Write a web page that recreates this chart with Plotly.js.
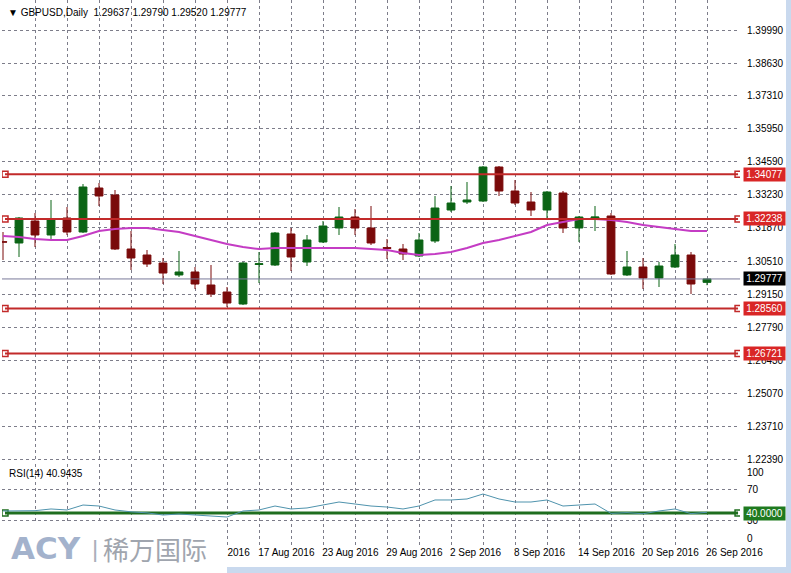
<!DOCTYPE html>
<html><head><meta charset="utf-8">
<script src="https://cdn.plot.ly/plotly-3.0.1.min.js"></script>
<style>html,body{margin:0;padding:0;background:#fff;overflow:hidden}#chart{width:791px;height:573px}</style>
</head><body><div id="chart"></div>
<script>
// ---- data ----
const dates = ['2016-07-26','2016-07-27','2016-07-28','2016-07-29','2016-08-01','2016-08-02','2016-08-03','2016-08-04','2016-08-05',
 '2016-08-08','2016-08-09','2016-08-10','2016-08-11','2016-08-12','2016-08-15','2016-08-16','2016-08-17','2016-08-18','2016-08-19',
 '2016-08-22','2016-08-23','2016-08-24','2016-08-25','2016-08-26','2016-08-29','2016-08-30','2016-08-31','2016-09-01','2016-09-02',
 '2016-09-05','2016-09-06','2016-09-07','2016-09-08','2016-09-09','2016-09-12','2016-09-13','2016-09-14','2016-09-15','2016-09-16',
 '2016-09-19','2016-09-20','2016-09-21','2016-09-22','2016-09-23','2016-09-26'];
const open  = [1.31300,1.31252,1.32154,1.31580,1.32277,1.31703,1.33508,1.33221,1.31005,1.30759,1.30431,1.29940,1.30062,1.29528,1.29241,
 1.28749,1.30370,1.30349,1.31621,1.30472,1.31293,1.31867,1.32318,1.31867,1.31063,1.31005,1.30718,1.31334,1.32605,1.32933,
 1.32974,1.34369,1.33385,1.32933,1.32605,1.33303,1.31867,1.32270,1.32359,1.29940,1.30267,1.29816,1.30267,1.30759,1.29637];
const high  = [1.31703,1.32318,1.32482,1.33016,1.32728,1.33672,1.33713,1.33426,1.31744,1.30964,1.30636,1.30923,1.30267,1.30349,1.29446,
 1.30472,1.30882,1.31703,1.31867,1.31580,1.32154,1.32728,1.32646,1.32769,1.31416,1.31211,1.31662,1.33180,1.33590,1.33754,
 1.34410,1.34410,1.33836,1.33344,1.33385,1.33385,1.32359,1.32769,1.32482,1.30923,1.30636,1.30472,1.31211,1.30882,1.29790];
const low   = [1.30554,1.30677,1.31087,1.31416,1.31580,1.31662,1.32769,1.30964,1.30144,1.30267,1.29569,1.29857,1.29364,1.29036,1.28626,
 1.28708,1.29610,1.30308,1.30103,1.30308,1.31252,1.31580,1.31580,1.31170,1.30595,1.30554,1.30677,1.31252,1.32523,1.32851,
 1.32933,1.33180,1.32810,1.32359,1.32195,1.31662,1.31293,1.31744,1.29940,1.29898,1.29364,1.29446,1.30226,1.29160,1.29520];
const close = [1.31290,1.32277,1.31580,1.32236,1.31703,1.33549,1.33180,1.31005,1.30636,1.30390,1.30020,1.30062,1.29569,1.29159,1.28790,
 1.30431,1.30400,1.31662,1.30677,1.31375,1.31949,1.32318,1.31867,1.31252,1.31030,1.30800,1.31375,1.32687,1.32892,1.33016,
 1.34369,1.33385,1.32892,1.32605,1.33344,1.31867,1.32318,1.32320,1.29980,1.30267,1.29816,1.30308,1.30759,1.29569,1.29777];
const movingAvg = [1.31539,1.31498,1.31416,1.31375,1.31375,1.31539,1.31744,1.31826,1.31867,1.31867,1.31785,1.31703,1.31539,1.31375,1.31211,
 1.31087,1.31005,1.31046,1.31046,1.31046,1.31046,1.31046,1.31046,1.31005,1.30964,1.30841,1.30759,1.30800,1.30882,1.31046,
 1.31252,1.31375,1.31539,1.31703,1.31990,1.32113,1.32236,1.32236,1.32195,1.32113,1.31990,1.31908,1.31826,1.31744,1.31744];
const rsi = [42.6,42.6,43.0,45.2,43.9,50.3,49.0,43.9,41.5,40.2,37.4,38.7,37.4,36.1,34.8,
 42.6,43.9,49.0,45.2,46.5,50.3,54.2,51.6,49.0,47.7,45.2,49.0,56.8,56.8,58.1,
 64.5,58.1,54.2,54.2,56.8,49.0,50.3,51.6,39.5,40.5,39.0,42.6,45.2,39.2,40.9435];
const priceTicks = [1.39990,1.38630,1.37310,1.35950,1.34590,1.33230,1.31870,1.30510,1.29150,1.27790,1.26430,1.25070,1.23710,1.22390];
const dateLabelIdx = [12,16,20,24,28,32,36,40,44];
const dateLabels = ['11 Aug 2016','17 Aug 2016','23 Aug 2016','29 Aug 2016',
 '2 Sep 2016','8 Sep 2016','14 Sep 2016','20 Sep 2016','26 Sep 2016'];
const levels = [1.34077,1.32238,1.28560,1.26721];
const rsiLevel = 40;
const rsiTicks = [30,70];
const symbol = 'GBPUSD,Daily';

// ---- layout helpers ----
const FONT = '"Liberation Sans", Arial, sans-serif';
const n = dates.length;
const idx = dates.map((d,i)=>i);
const xRange = [-0.0625, n + 1.0625];
const plotW = 738, plotL = 2, plotH = 545;
const barPx = plotW / (xRange[1]-xRange[0]);
const px2x = p => (p - plotL)/plotW;
const py2y = p => (plotH - p)/plotH;
const priceRange = [1.222669, 1.412208];
const rsiRange = [-1.29, 103.23];

const ctx = document.createElement('canvas').getContext('2d');
ctx.font = '10px "Liberation Sans"';
const labelPos = dateLabelIdx.map((i,k)=> i + (ctx.measureText(dateLabels[k]).width/2 - 1)/barPx);

const lineStart = 0.125, lineEnd = n + 0.94;
const traces = [];
traces.push({type:'candlestick', x:idx, open, high, low, close, xaxis:'x', yaxis:'y', hoverinfo:'skip',
  whiskerwidth:0,
  increasing:{line:{color:'#0b6415', width:1}, fillcolor:'#0b6415'},
  decreasing:{line:{color:'#7a0a0a', width:1}, fillcolor:'#7a0a0a'}, showlegend:false});
traces.push({type:'scatter', mode:'lines', x:idx, y:movingAvg, xaxis:'x', yaxis:'y',
  line:{color:'#c43cc4', width:2}, hoverinfo:'skip', showlegend:false});
// current price line
traces.push({type:'scatter', mode:'lines', x:xRange, y:[close[n-1], close[n-1]], xaxis:'x', yaxis:'y',
  line:{color:'#7a7a9a', width:1}, hoverinfo:'skip', showlegend:false});
levels.forEach(l=>{
  traces.push({type:'scatter', mode:'lines+markers', x:[lineStart,lineEnd], y:[l,l], xaxis:'x', yaxis:'y',
    line:{color:'#c22a2a', width:2}, marker:{symbol:'square-open', size:6, color:'#c22a2a', line:{width:1.5}},
    hoverinfo:'skip', showlegend:false});
});
// RSI level line
traces.push({type:'scatter', mode:'lines+markers', x:[lineStart,lineEnd], y:[rsiLevel,rsiLevel], xaxis:'x', yaxis:'y2',
  line:{color:'#1f6e1f', width:3}, marker:{symbol:'square-open', size:6, color:'#1f6e1f', line:{width:1.5}},
  hoverinfo:'skip', showlegend:false});
// RSI line
traces.push({type:'scatter', mode:'lines', x:idx, y:rsi, xaxis:'x2', yaxis:'y3',
  line:{color:'#4f93ad', width:1}, hoverinfo:'skip', showlegend:false});

const gridStyle = {showgrid:true, gridcolor:'#7d7d8a', gridwidth:1, griddash:'3px,3px', zeroline:false, showline:false};
const tickFont = {family:FONT, size:10, color:'#000'};

const annotations = [];
const last = n-1;
annotations.push({xref:'paper', yref:'paper', x:px2x(6), y:py2y(13), xanchor:'left', yanchor:'middle', showarrow:false,
  text:'▼ '+symbol+'  '+open[last].toFixed(5)+' '+high[last].toFixed(5)+' '+low[last].toFixed(5)+' '+close[last].toFixed(5),
  font:{family:FONT, size:10, color:'#000'}});
annotations.push({xref:'paper', yref:'paper', x:px2x(7), y:py2y(473), xanchor:'left', yanchor:'middle', showarrow:false,
  text:'RSI(14) '+rsi[last].toFixed(4), font:{family:FONT, size:10, color:'#000'}});
const boxX = px2x(743);
levels.forEach(l=>{
  annotations.push({xref:'paper', yref:'y', x:boxX, y:l, xanchor:'left', yanchor:'middle', showarrow:false,
    text:l.toFixed(5), bgcolor:'#d92626', borderpad:1, width:39, height:11, font:{family:FONT, size:10, color:'#fff'}});
});
annotations.push({xref:'paper', yref:'y', x:boxX, y:close[last], xanchor:'left', yanchor:'middle', showarrow:false,
  text:close[last].toFixed(5), bgcolor:'#000', borderpad:1, width:39, height:11, font:{family:FONT, size:10, color:'#fff'}});
annotations.push({xref:'paper', yref:'y2', x:boxX, y:rsiLevel, xanchor:'left', yanchor:'middle', showarrow:false,
  text:rsiLevel.toFixed(4), bgcolor:'#1f7a1f', borderpad:1, width:39, height:11, font:{family:FONT, size:10, color:'#fff'}});
// logo
annotations.push({xref:'paper', yref:'paper', x:px2x(9), y:py2y(548), xanchor:'left', yanchor:'middle', showarrow:false,
  text:'<b>ACY</b>', font:{family:'"DejaVu Sans", sans-serif', size:31, color:'#a3b2cc'}});
annotations.push({xref:'paper', yref:'paper', x:px2x(95), y:py2y(548), xanchor:'center', yanchor:'middle', showarrow:false,
  text:'|', font:{family:FONT, size:24, color:'#aab0bb'}});
annotations.push({xref:'paper', yref:'paper', x:px2x(101), y:py2y(548), xanchor:'left', yanchor:'middle', showarrow:false,
  text:'稀万国际', font:{family:'"Noto Sans CJK SC", sans-serif', size:26, color:'#a0a5ae'}});

const shapes = [
  {type:'rect', xref:'paper', yref:'paper', x0:px2x(226), x1:px2x(792), y0:py2y(567), y1:py2y(574), fillcolor:'#c9d9ee', line:{width:0}, layer:'above'},
  {type:'rect', xref:'paper', yref:'paper', x0:px2x(786), x1:px2x(792), y0:py2y(-1), y1:py2y(574), fillcolor:'#c9d9ee', line:{width:0}, layer:'above'},
  {type:'rect', xref:'paper', yref:'paper', x0:px2x(-2), x1:px2x(227), y0:py2y(523), y1:py2y(575), fillcolor:'#ffffff', line:{width:0}, layer:'above'}
];

const layout = {
  width:791, height:573, margin:{l:2, r:51, t:0, b:28},
  paper_bgcolor:'#fff', plot_bgcolor:'#fff', showlegend:false, hovermode:false,
  font:{family:FONT, size:10, color:'#000'},
  xaxis:Object.assign({range:xRange, anchor:'y2', tickmode:'linear', tick0:0, dtick:2, showticklabels:false, ticks:'',
    rangeslider:{visible:false}}, gridStyle),
  xaxis2:{overlaying:'x', anchor:'y2', side:'bottom', range:xRange, tickmode:'array', tickvals:labelPos, ticktext:dateLabels,
    showgrid:false, zeroline:false, showline:false, ticks:'', tickfont:tickFont, ticklabelstandoff:0},
  yaxis:Object.assign({domain:[py2y(462),1], range:priceRange, side:'right', anchor:'x', tickmode:'array',
    tickvals:priceTicks, ticktext:priceTicks.map(v=>v.toFixed(5)), ticks:'', tickfont:tickFont, ticklabelstandoff:6}, gridStyle),
  yaxis2:Object.assign({domain:[0,py2y(464)], range:rsiRange, side:'right', anchor:'x', tickmode:'array',
    tickvals:rsiTicks, ticktext:rsiTicks.map(String), ticks:'', tickfont:tickFont, ticklabelstandoff:6}, gridStyle),
  yaxis3:{overlaying:'y2', side:'right', anchor:'x2', range:rsiRange, tickmode:'array',
    tickvals:[40+(513-472)/0.775, 40-(538-513)/0.775], ticktext:['100','0'], showgrid:false, zeroline:false, showline:false,
    ticks:'', tickfont:tickFont, ticklabelstandoff:6},
  annotations, shapes
};
Plotly.newPlot('chart', traces, layout, {displayModeBar:false, staticPlot:true});
</script>
</body></html>
